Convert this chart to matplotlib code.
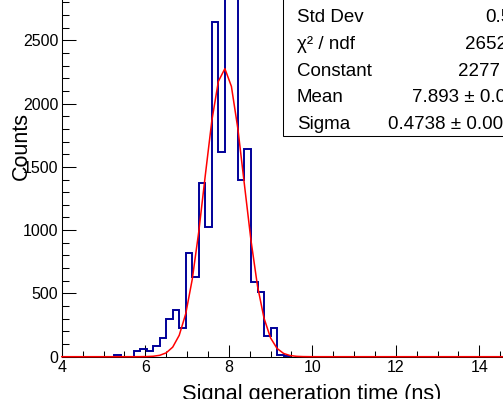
import matplotlib

matplotlib.use('agg')
import matplotlib.pyplot as plt
from matplotlib.patches import Rectangle
from matplotlib.ticker import MultipleLocator
import numpy as np

plt.rcParams['font.family'] = 'Liberation Sans'

W, H = 503, 399

# histogram binning (ns) and bin contents
bin_lo = 4.0
bin_width = 0.15625
counts = [0, 0, 0, 0, 0, 0, 0, 0, 12, 0, 0, 45, 58, 42, 85, 145, 298, 369, 224, 822, 627,
          1375, 1027, 2647, 1620, 3156, 3000, 1396, 1639, 593, 514, 166, 224, 10, 5]

# gaussian fit parameters (from the stats box)
fit_const = 2277
fit_mean = 7.893
fit_sigma = 0.4738

stat_names = ['Std Dev', 'χ² / ndf', 'Constant', 'Mean', 'Sigma']
stat_values = ['0.5413', '2652 / 57', '2277 ± 31.5', '7.893 ± 0.004', '0.4738 ± 0.0030']

x_ticks = [4, 6, 8, 10, 12, 14, 16]
y_ticks = [0, 500, 1000, 1500, 2000, 2500, 3000]


def fx(px):
    return px / W


def fy(py):
    return 1 - py / H


fig = plt.figure(figsize=(W / 100, H / 100), dpi=100)
ax = fig.add_axes([fx(61.8), fy(356.7), 501 / W, (356.7 + 62.7) / H])

edges = bin_lo + bin_width * np.arange(len(counts) + 1)
ax.stairs(counts, edges, color='#000099', linewidth=1.4, zorder=3)

xf = np.arange(4.0, 16.0 + 1e-9, bin_width)
yf = fit_const * np.exp(-0.5 * ((xf - fit_mean) / fit_sigma) ** 2)
ax.plot(xf, yf, color='red', linewidth=1.1, zorder=4, clip_on=False)

ax.set_xlim(4, 16)
ax.set_ylim(0, 3314)
ax.set_xticks(x_ticks)
ax.set_yticks(y_ticks)
ax.xaxis.set_minor_locator(MultipleLocator(0.5))
ax.yaxis.set_minor_locator(MultipleLocator(100))
ax.tick_params(axis='x', which='major', direction='in', length=8.5, width=0.75, labelsize=11.5, pad=2.6)
ax.tick_params(axis='x', which='minor', direction='in', length=4.2, width=0.75)
ax.tick_params(axis='y', which='major', direction='in', length=10, width=0.75, labelsize=11.5, pad=2.5)
ax.tick_params(axis='y', which='minor', direction='in', length=5, width=0.75)
for s in ['top', 'right']:
    ax.spines[s].set_visible(False)
for s in ['left', 'bottom']:
    ax.spines[s].set_linewidth(0.75)

fig.text(fx(312), fy(400), 'Signal generation time (ns)', fontsize=15.7,
         ha='center', va='baseline')
fig.text(fx(26.7), fy(146), 'Counts', fontsize=15.5, rotation=90,
         rotation_mode='anchor', ha='center', va='baseline')

# stats box
box = Rectangle((fx(283.3), fy(136)), (620 - 283.3) / W, (136 + 20) / H,
                transform=fig.transFigure, facecolor='white', edgecolor='black',
                linewidth=0.75, zorder=5)
fig.add_artist(box)

baselines = [21.7, 48.6, 75.5, 102.4, 129.3]
value_x = [485, 465, 458.3, 412.3, 388.3]
for name, val, yb, xv in zip(stat_names, stat_values, baselines, value_x):
    fig.text(fx(296.7), fy(yb), name, fontsize=13.5, va='baseline', ha='left', zorder=6)
    fig.text(fx(xv), fy(yb), val, fontsize=13.5, va='baseline', ha='left', zorder=6)

fig.savefig('out.png', dpi=100)
